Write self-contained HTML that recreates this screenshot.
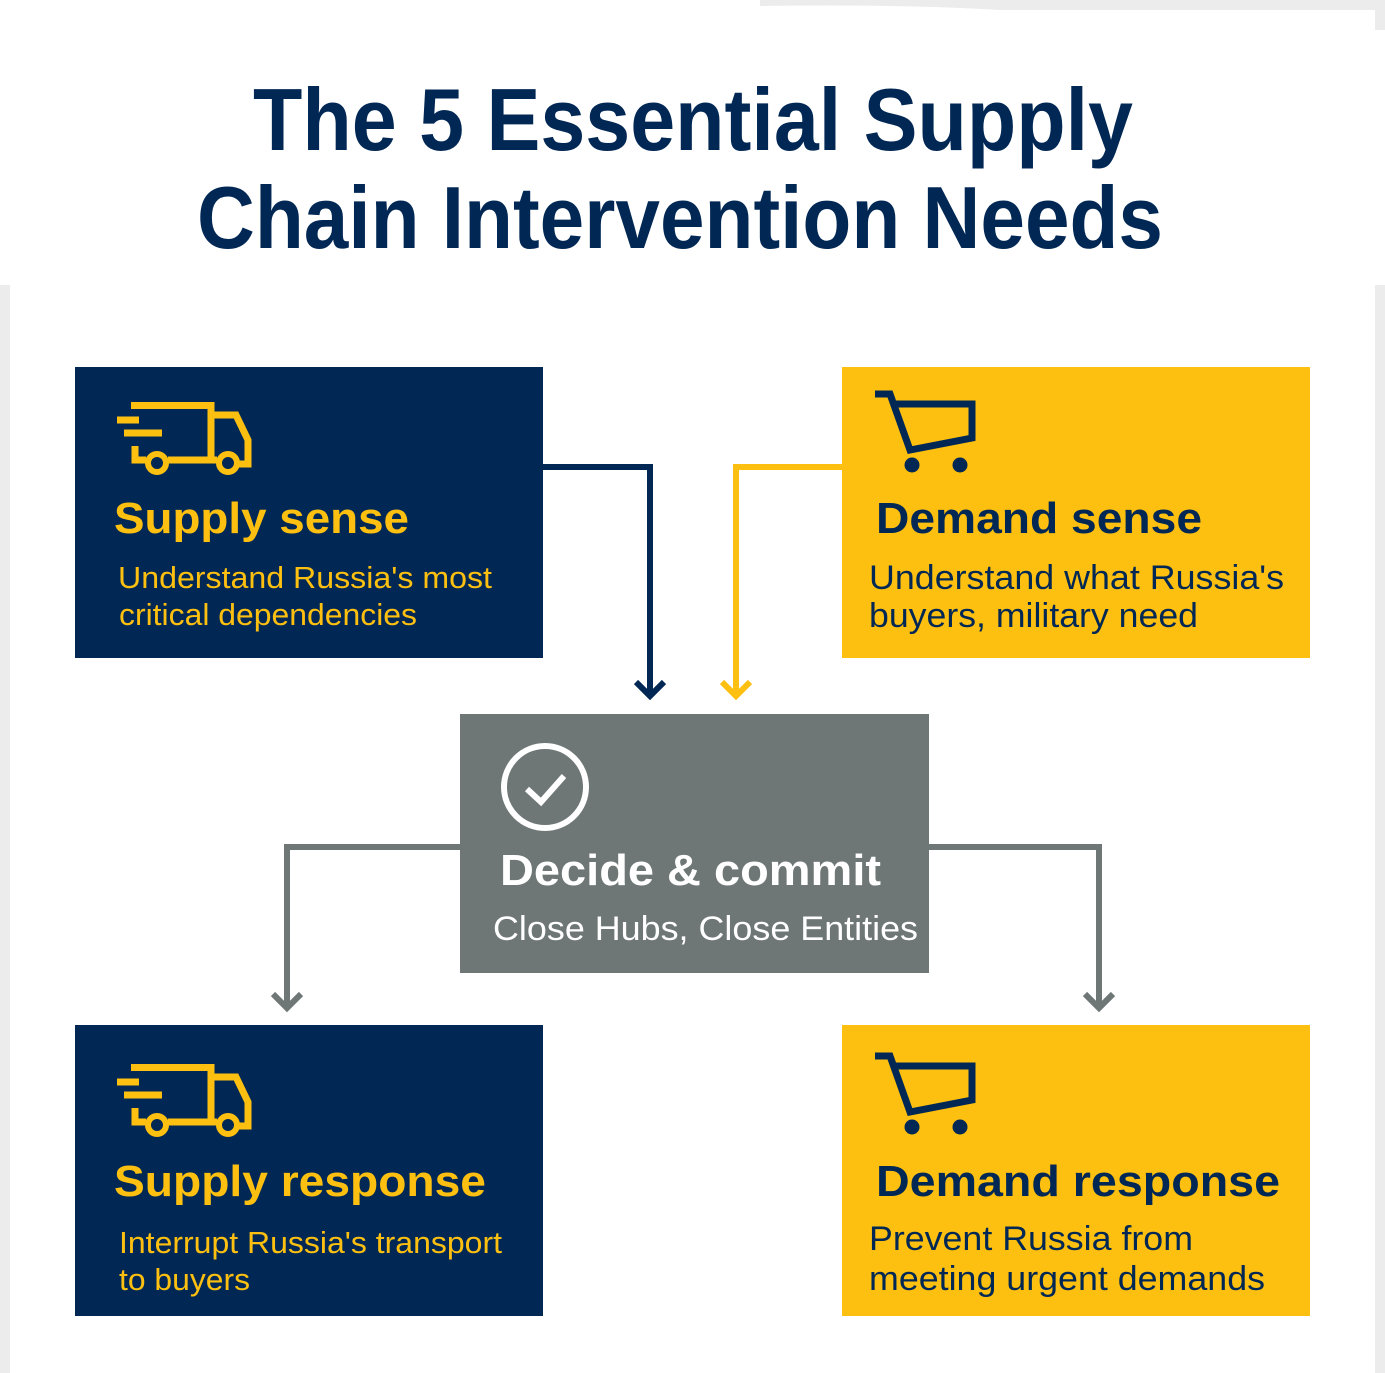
<!DOCTYPE html>
<html><head><meta charset="utf-8"><style>
html,body{margin:0;padding:0;background:#fff;}
svg{display:block;}
text{font-family:"Liberation Sans",sans-serif;}
</style></head><body>
<svg width="1385" height="1373" viewBox="0 0 1385 1373" xmlns="http://www.w3.org/2000/svg">
<rect width="1385" height="1373" fill="#fff"/>
<path d="M760 0 H1385 V30 H1375 V10 H1000 Q900 4 760 6 Z" fill="#ececec"/>
<rect x="0" y="285" width="10" height="1088" fill="#ececec"/>
<rect x="1375" y="285" width="10" height="1088" fill="#ececec"/>

<text x="253" y="150" font-size="88" font-weight="bold" fill="#012754" textLength="880" lengthAdjust="spacingAndGlyphs">The 5 Essential Supply</text>
<text x="197" y="248" font-size="88" font-weight="bold" fill="#012754" textLength="966" lengthAdjust="spacingAndGlyphs">Chain Intervention Needs</text>

<!-- connectors -->
<g fill="none" stroke-width="6">
<path d="M543 467 H650 V694" stroke="#012754"/>
<path d="M636 682 L650 696 L664 682" stroke="#012754"/>
<path d="M842 467 H736 V694" stroke="#FDC010"/>
<path d="M722 682 L736 696 L750 682" stroke="#FDC010"/>
<path d="M460 847 H287 V1006" stroke="#6E7676"/>
<path d="M273 994 L287 1008 L301 994" stroke="#6E7676"/>
<path d="M929 847 H1099 V1006" stroke="#6E7676"/>
<path d="M1085 994 L1099 1008 L1113 994" stroke="#6E7676"/>
</g>

<!-- boxes -->
<rect x="75" y="367" width="468" height="291" fill="#012754"/>
<rect x="842" y="367" width="468" height="291" fill="#FDC010"/>
<rect x="460" y="714" width="469" height="259" fill="#6E7676"/>
<rect x="75" y="1025" width="468" height="291" fill="#012754"/>
<rect x="842" y="1025" width="468" height="291" fill="#FDC010"/>

<!-- truck icons -->
<g id="truck" fill="none" stroke="#FDC010" stroke-width="7">
<path d="M131 405.5 H211 V460 M211 415 H236 L248 440 V464 H239"/>
<path d="M135 446 V460 H146 M168 460 H217"/>
<path d="M117 420 H139 M124 433 H162"/>
<circle cx="157" cy="463" r="9" stroke-width="6"/>
<circle cx="228" cy="463" r="9" stroke-width="6"/>
</g>
<use href="#truck" transform="translate(0,662)"/>

<!-- cart icons -->
<g id="cart">
<path d="M875 394 H890 L910 450 L972 438 V404 H896" fill="none" stroke="#012754" stroke-width="7"/>
<circle cx="912" cy="465" r="7.5" fill="#012754"/>
<circle cx="960" cy="465" r="7.5" fill="#012754"/>
</g>
<use href="#cart" transform="translate(0,662)"/>

<!-- check -->
<circle cx="545" cy="787" r="41" fill="none" stroke="#fff" stroke-width="6"/>
<path d="M527 789 L541 802 L564 776" fill="none" stroke="#fff" stroke-width="6"/>

<!-- texts -->
<text x="114" y="533" font-size="44" font-weight="bold" fill="#FDC010" textLength="295" lengthAdjust="spacingAndGlyphs">Supply sense</text>
<text x="118" y="588" font-size="31" fill="#FDC010" textLength="374" lengthAdjust="spacingAndGlyphs">Understand Russia's most</text>
<text x="119" y="625" font-size="31" fill="#FDC010" textLength="298" lengthAdjust="spacingAndGlyphs">critical dependencies</text>

<text x="876" y="533" font-size="44" font-weight="bold" fill="#012754" textLength="326" lengthAdjust="spacingAndGlyphs">Demand sense</text>
<text x="869" y="589" font-size="34" fill="#012754" textLength="415" lengthAdjust="spacingAndGlyphs">Understand what Russia's</text>
<text x="869" y="627" font-size="34" fill="#012754" textLength="329" lengthAdjust="spacingAndGlyphs">buyers, military need</text>

<text x="500" y="885" font-size="44" font-weight="bold" fill="#fff" textLength="381" lengthAdjust="spacingAndGlyphs">Decide &amp; commit</text>
<text x="493" y="940" font-size="34" fill="#fff" textLength="425" lengthAdjust="spacingAndGlyphs">Close Hubs, Close Entities</text>

<text x="114" y="1196" font-size="44" font-weight="bold" fill="#FDC010" textLength="372" lengthAdjust="spacingAndGlyphs">Supply response</text>
<text x="119" y="1253" font-size="31" fill="#FDC010" textLength="383" lengthAdjust="spacingAndGlyphs">Interrupt Russia's transport</text>
<text x="119" y="1290" font-size="31" fill="#FDC010" textLength="131" lengthAdjust="spacingAndGlyphs">to buyers</text>

<text x="876" y="1196" font-size="44" font-weight="bold" fill="#012754" textLength="404" lengthAdjust="spacingAndGlyphs">Demand response</text>
<text x="869" y="1250" font-size="34" fill="#012754" textLength="324" lengthAdjust="spacingAndGlyphs">Prevent Russia from</text>
<text x="869" y="1290" font-size="34" fill="#012754" textLength="396" lengthAdjust="spacingAndGlyphs">meeting urgent demands</text>
</svg>
</body></html>
